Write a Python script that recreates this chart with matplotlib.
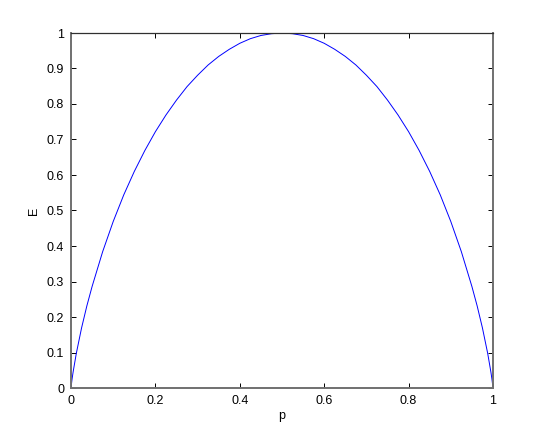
import numpy as np
import matplotlib
matplotlib.use('Agg')
import matplotlib.pyplot as plt

# values (it is mirror-symmetric about p = 0.5)
p = [0.0, 0.0025, 0.005, 0.0125, 0.025, 0.0375, 0.05, 0.075, 0.1, 0.125, 0.15, 0.175,
     0.2, 0.225, 0.25, 0.275, 0.3, 0.325, 0.35, 0.375, 0.4, 0.425, 0.45, 0.475, 0.5,
     0.525, 0.55, 0.575, 0.6, 0.625, 0.65, 0.675, 0.7, 0.725, 0.75, 0.775, 0.8,
     0.825, 0.85, 0.875, 0.9, 0.925, 0.95, 0.9625, 0.975, 0.9875, 0.995, 0.9975, 1.0]
E = [0.0, 0.025, 0.045, 0.097, 0.169, 0.231, 0.286, 0.384, 0.469, 0.544, 0.610, 0.669,
     0.722, 0.769, 0.811, 0.849, 0.881, 0.910, 0.934, 0.954, 0.971, 0.984, 0.993, 0.998, 1.0,
     0.998, 0.993, 0.984, 0.971, 0.954, 0.934, 0.910, 0.881, 0.849, 0.811, 0.769, 0.722,
     0.669, 0.610, 0.544, 0.469, 0.384, 0.286, 0.231, 0.169, 0.097, 0.045, 0.025, 0.0]

xticks = [0, 0.2, 0.4, 0.6, 0.8, 1]
xlabels = ['0', '0.2', '0.4', '0.6', '0.8', '1']
yticks = [0, 0.1, 0.2, 0.3, 0.4, 0.5, 0.6, 0.7, 0.8, 0.9, 1]
ylabels = ['0', '0.1', '0.2', '0.3', '0.4', '0.5', '0.6', '0.7', '0.8', '0.9', '1']

plt.rcParams['font.family'] = ['Liberation Sans', 'DejaVu Sans']
plt.rcParams['font.size'] = 9

fig = plt.figure(figsize=(5.45, 4.36), dpi=100)
ax = fig.add_axes([71/545, 1-388/436, 422/545, 355/436])
ax.plot(p, E, color='#0000ff', lw=0.7)
ax.set_xlim(0, 1)
ax.set_ylim(0, 1)
ax.set_xticks(xticks)
ax.set_xticklabels(xlabels)
ax.set_yticks(yticks)
ax.set_yticklabels(ylabels)
ax.tick_params(direction='in', top=True, right=True, length=3.5, width=0.7, pad=5)

for side in ['left', 'bottom', 'right']:
    ax.spines[side].set_color('#707070')
    ax.spines[side].set_linewidth(1.4)
ax.spines['top'].set_color('#303030')
ax.spines['top'].set_linewidth(0.9)

ax.set_xlabel('p', labelpad=2)
ax.set_ylabel('E', labelpad=5)

fig.savefig('out.png', dpi=100)
